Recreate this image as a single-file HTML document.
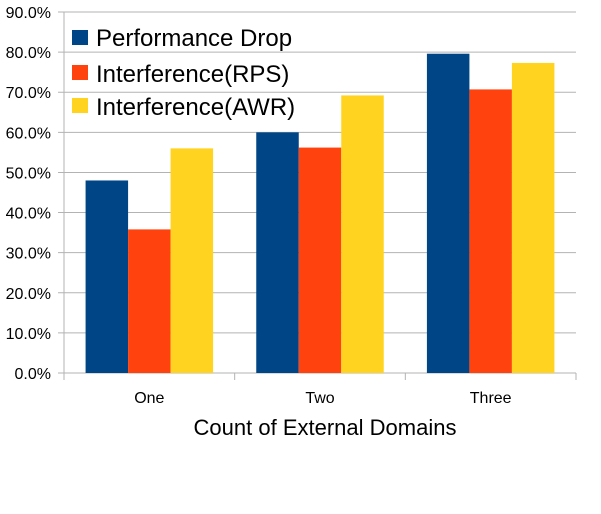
<!DOCTYPE html>
<html><head><meta charset="utf-8"><style>
body{margin:0;background:#fff;}
svg text{font-family:"Liberation Sans",sans-serif;fill:#000;}
</style></head><body>
<svg id="chart" width="601" height="509">
<g id="grid"></g><g id="bars"></g><g id="axes"></g>
<g>
<rect x="72" y="30" width="16" height="15" fill="#004586"/>
<text x="96" y="46" font-size="24">Performance Drop</text>
<rect x="72" y="65" width="16" height="15" fill="#ff420e"/>
<text x="96" y="82" font-size="24">Interference(RPS)</text>
<rect x="72" y="98" width="16" height="15" fill="#ffd320"/>
<text x="96" y="115" font-size="24">Interference(AWR)</text>
</g>
<text x="325" y="435" font-size="22" text-anchor="middle">Count of External Domains</text>
</svg>
<script>
const categories=["One","Two","Three"];
const perfDrop=[48,60,79.6];
const interfRPS=[35.8,56.2,70.7];
const interfAWR=[56,69.2,77.3];
const yTicks=[0,10,20,30,40,50,60,70,80,90];
const ns="http://www.w3.org/2000/svg";
const X0=64,X1=576,Y0=373,Y1=12,YMAX=90;
const y=v=>Y0-(v/YMAX)*(Y0-Y1);
const gw=(X1-X0)/categories.length;
function mk(t,a,p){const e=document.createElementNS(ns,t);for(const k in a)e.setAttribute(k,a[k]);p.appendChild(e);return e;}
const grid=document.getElementById('grid'),bars=document.getElementById('bars'),axes=document.getElementById('axes');
yTicks.forEach(t=>{
 const l=mk('line',{x1:X0-6,x2:X1,y1:y(t),y2:y(t),stroke:'#b3b3b3','stroke-width':1},grid);
 
 
 const tx=mk('text',{x:X0-13,y:y(t)+6,'font-size':16,'text-anchor':'end'},axes);
 tx.textContent=t.toFixed(1)+'%';
 
 
});
const al=mk('line',{x1:X0,x2:X0,y1:Y1,y2:Y0,stroke:'#b3b3b3'},axes);


for(let i=0;i<=categories.length;i++){
 const l=mk('line',{x1:X0+i*gw,x2:X0+i*gw,y1:Y0,y2:Y0+7,stroke:'#b3b3b3'},axes);
 
 
}
const series=[[perfDrop,'#004586','performance-drop'],[interfRPS,'#ff420e','rps'],[interfAWR,'#ffd320','awr']];
const bw=42.5;
categories.forEach((c,i)=>{
 const gx=X0+i*gw+(gw-3*bw)/2;
 series.forEach((s,j)=>{
  const v=s[0][i];
  const r=mk('rect',{x:gx+j*bw,y:y(v),width:bw,height:Y0-y(v),fill:s[1]},bars);
  
  
 });
 const t=mk('text',{x:X0+i*gw+gw/2,y:403,'font-size':16,'text-anchor':'middle'},axes);
 t.textContent=c;
 
 
});
</script>
</body></html>
